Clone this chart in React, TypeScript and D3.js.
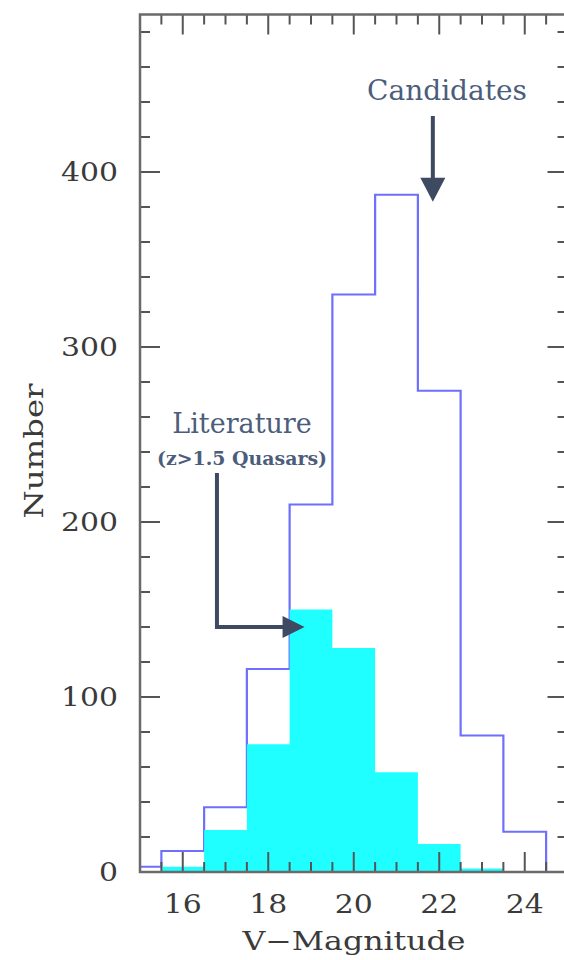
import React from "react";
import * as d3 from "d3";

const binStarts = [14.5, 15.5, 16.5, 17.5, 18.5, 19.5, 20.5, 21.5, 22.5, 23.5];
const candidates = [3, 12, 37, 116, 210, 330, 387, 275, 78, 23];
const literature = [0, 3, 24, 73, 150, 128, 57, 16, 2, 0];
const binWidth = 1;
const xMajorTicks = [16, 18, 20, 22, 24];
const yMajorTicks = [0, 100, 200, 300, 400];
const xDomain = [15, 25];
const yDomain = [0, 490];

const W = 564;
const H = 960;
const M = { left: 140, top: 14.5, right: 567.5, bottom: 872 };

export default function App() {
  const x = d3.scaleLinear().domain(xDomain).range([M.left, M.right]);
  const y = d3.scaleLinear().domain(yDomain).range([M.bottom, M.top]);

  const xMinor = d3.range(xDomain[0], xDomain[1] + 0.001, 0.5);
  const yMinor = d3.range(0, yDomain[1], 20);

  const pts: [number, number][] = binStarts.map((s, i) => [s, candidates[i]]);
  pts.push([binStarts[binStarts.length - 1] + binWidth, 0]);
  const stepLine = d3
    .line<[number, number]>()
    .x((d) => x(d[0]))
    .y((d) => y(d[1]))
    .curve(d3.curveStepAfter);

  const litPts: [number, number][] = binStarts.map((s, i) => [s, literature[i]]);
  litPts.push([binStarts[binStarts.length - 1] + binWidth, 0]);
  const stepArea = d3
    .area<[number, number]>()
    .x((d) => x(d[0]))
    .y0(y(0))
    .y1((d) => y(d[1]))
    .curve(d3.curveStepAfter);

  const axisColor = "#6a6a6a";
  const tickColor = "#555";
  const labelColor = "#3a3a3a";
  const annColor = "#4c5d7c";
  const arrowColor = "#3e4a62";

  const majTick = 20;
  const minTick = 10;

  const candX = x(21.85);
  const candTop = y(432);
  const candTip = y(383);
  const litX = x(16.8);
  const litTop = y(228);
  const litY = y(140);
  const litTip = x(18.85);

  return (
    <svg width={W} height={H} style={{ display: "block", position: "absolute", left: 0, top: 0 }}>
      <defs>
        <clipPath id="plotclip">
          <rect x={M.left} y={M.top} width={M.right - M.left} height={M.bottom - M.top} />
        </clipPath>
      </defs>
      <rect x={0} y={0} width={W} height={H} fill="#fff" />
      <g clipPath="url(#plotclip)">
        <path d={stepLine(pts) || ""} fill="none" stroke="#6f6fff" strokeWidth={2.2} />
        <path d={stepArea(litPts) || ""} fill="#20ffff" stroke="none" />
      </g>
      <g stroke={tickColor} strokeWidth={2}>
        {xMinor.map((v) => {
          const len = xMajorTicks.includes(v) ? majTick : minTick;
          return (
            <g key={"xt" + v}>
              <line x1={x(v)} x2={x(v)} y1={M.bottom} y2={M.bottom - len} />
              <line x1={x(v)} x2={x(v)} y1={M.top} y2={M.top + len} />
            </g>
          );
        })}
        {yMinor.map((v) => {
          const len = yMajorTicks.includes(v) ? majTick : minTick;
          return (
            <g key={"yt" + v}>
              <line x1={M.left} x2={M.left + len} y1={y(v)} y2={y(v)} />
              <line x1={M.right} x2={M.right - len} y1={y(v)} y2={y(v)} />
            </g>
          );
        })}
      </g>
      <rect
        x={M.left}
        y={M.top}
        width={M.right - M.left}
        height={M.bottom - M.top}
        fill="none"
        stroke={axisColor}
        strokeWidth={2.5}
      />
      <g fontFamily="DejaVu Serif" fontSize={26} fill={labelColor}>
        {xMajorTicks.map((v) => (
          <text key={"xl" + v} x={x(v)} y={913} textAnchor="middle" textLength={38} lengthAdjust="spacingAndGlyphs">
            {v}
          </text>
        ))}
        {yMajorTicks.map((v) => (
          <text
            key={"yl" + v}
            x={118}
            y={y(v) + 9}
            textAnchor="end"
            textLength={String(v).length * 19}
            lengthAdjust="spacingAndGlyphs"
          >
            {v}
          </text>
        ))}
      </g>
      <text
        x={354}
        y={950}
        textAnchor="middle"
        fontFamily="DejaVu Serif"
        fontSize={26}
        fill={labelColor}
        textLength={223}
        lengthAdjust="spacingAndGlyphs"
      >
        V−Magnitude
      </text>
      <text
        transform="translate(43,451) rotate(-90)"
        textAnchor="middle"
        fontFamily="DejaVu Serif"
        fontSize={26}
        fill={labelColor}
        textLength={135}
        lengthAdjust="spacingAndGlyphs"
      >
        Number
      </text>
      <text x={447} y={100} textAnchor="middle" fontFamily="DejaVu Serif" fontSize={28} fill={annColor}>
        Candidates
      </text>
      <line x1={candX} x2={candX} y1={candTop} y2={candTip - 22} stroke={arrowColor} strokeWidth={4} />
      <path
        d={`M${candX - 12.5},${candTip - 24} L${candX + 12.5},${candTip - 24} L${candX},${candTip} Z`}
        fill={arrowColor}
      />
      <text x={242} y={433} textAnchor="middle" fontFamily="DejaVu Serif" fontSize={27} fill={annColor}>
        Literature
      </text>
      <text
        x={242}
        y={465}
        textAnchor="middle"
        fontFamily="DejaVu Serif"
        fontWeight="bold"
        fontSize={18}
        fill={annColor}
        textLength={170}
        lengthAdjust="spacingAndGlyphs"
      >
        (z&gt;1.5 Quasars)
      </text>
      <path
        d={`M${litX},${litTop} L${litX},${litY} L${litTip - 20},${litY}`}
        fill="none"
        stroke={arrowColor}
        strokeWidth={4}
      />
      <path
        d={`M${litTip - 22},${litY - 11} L${litTip},${litY} L${litTip - 22},${litY + 11} Z`}
        fill={arrowColor}
      />
    </svg>
  );
}
